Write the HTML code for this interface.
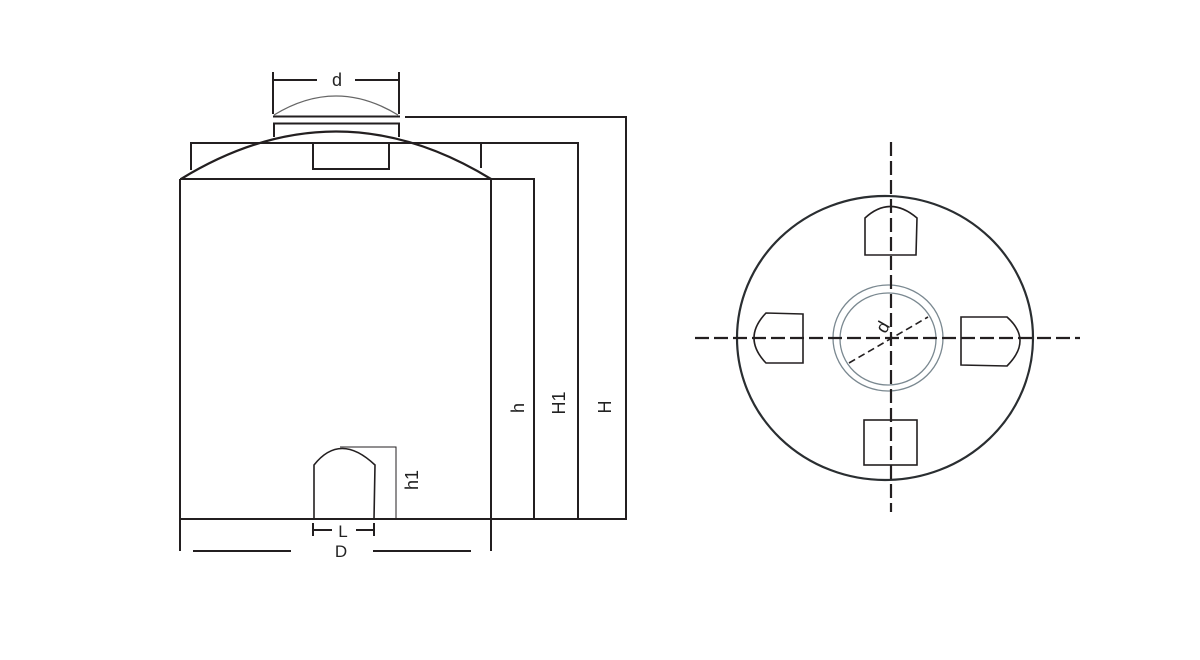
<!DOCTYPE html>
<html><head><meta charset="utf-8"><style>
html,body{margin:0;padding:0;background:#fff;}
svg{display:block;}
text{font-family:"Liberation Sans",sans-serif;fill:#222;}
</style></head><body>
<svg width="1200" height="660" viewBox="0 0 1200 660" xmlns="http://www.w3.org/2000/svg">
<g fill="none" stroke="#231f20" stroke-width="2">
  <line x1="273" y1="72" x2="273" y2="114"/>
  <line x1="399" y1="72" x2="399" y2="114"/>
  <line x1="273" y1="80" x2="317" y2="80"/>
  <line x1="355" y1="80" x2="399" y2="80"/>
  <path d="M274 115 Q336 77 398 115" stroke="#666" stroke-width="1.3"/>
  <line x1="273" y1="116.5" x2="400" y2="116.5"/>
  <line x1="273" y1="123.5" x2="400" y2="123.5"/>
  <line x1="274" y1="123" x2="274" y2="137"/>
  <line x1="399" y1="123" x2="399" y2="137"/>
  <polyline points="405,117 626,117 626,519 535,519"/>
  <polyline points="191,170 191,143 578,143 578,519"/>
  <line x1="481" y1="143" x2="481" y2="168"/>
  <polyline points="490,179 534,179 534,519"/>
  <path d="M181 179 Q336 84 491 179" stroke-width="2.2"/>
  <rect x="313" y="143" width="76" height="26"/>
  <line x1="180" y1="179" x2="491" y2="179"/>
  <line x1="180" y1="179" x2="180" y2="551"/>
  <line x1="491" y1="179" x2="491" y2="551"/>
  <line x1="180" y1="519" x2="535" y2="519"/>
  <path d="M314 519 L314 465 Q340 432 375 465 L374 519" stroke-width="1.6"/>
  <polyline points="340,447 396,447 396,519" stroke-width="1"/>
  <line x1="313" y1="523" x2="313" y2="536"/>
  <line x1="374" y1="523" x2="374" y2="536"/>
  <line x1="313" y1="530" x2="332" y2="530"/>
  <line x1="356" y1="530" x2="374" y2="530"/>
  <line x1="193" y1="551" x2="291" y2="551"/>
  <line x1="373" y1="551" x2="471" y2="551"/>
</g>
<text x="337" y="86" font-size="18" text-anchor="middle">d</text>
<text x="343" y="537" font-size="17" text-anchor="middle" fill="#555">L</text>
<text x="341" y="557" font-size="17" text-anchor="middle" fill="#555">D</text>
<text transform="translate(524,408) rotate(-90)" font-size="18" text-anchor="middle">h</text>
<text transform="translate(565,403) rotate(-90)" font-size="18" text-anchor="middle">H1</text>
<text transform="translate(611,407) rotate(-90)" font-size="18" text-anchor="middle">H</text>
<text transform="translate(418,480) rotate(-90)" font-size="18" text-anchor="middle">h1</text>

<g fill="none">
  <ellipse cx="885" cy="338" rx="148" ry="142" stroke="#2a2e31" stroke-width="2.2"/>
  <ellipse cx="888" cy="338" rx="55" ry="53" stroke="#7a8890" stroke-width="1.3"/>
  <ellipse cx="888" cy="339" rx="48" ry="46" stroke="#7a8890" stroke-width="1.3"/>
  <g stroke="#231f20" stroke-width="1.6">
    <path d="M865 255 L865 218 Q890 195 917 218 L916 255 Z"/>
    <path d="M803 314 L766 313 Q742 338 766 363 L803 363 Z"/>
    <path d="M961 317 L1007 317 Q1033 340 1007 366 L961 365 Z"/>
    <rect x="864" y="420" width="53" height="45"/>
  </g>
  <g stroke="#231f20" stroke-width="2.2" stroke-dasharray="14,5">
    <line x1="695" y1="338" x2="1080" y2="338"/>
    <line x1="891" y1="142" x2="891" y2="512"/>
  </g>
  <line x1="849" y1="363" x2="928" y2="317" stroke="#231f20" stroke-width="1.6" stroke-dasharray="7,4"/>
</g>
<text transform="translate(888,330) rotate(-60)" font-size="18" text-anchor="middle">d</text>
</svg>
</body></html>
